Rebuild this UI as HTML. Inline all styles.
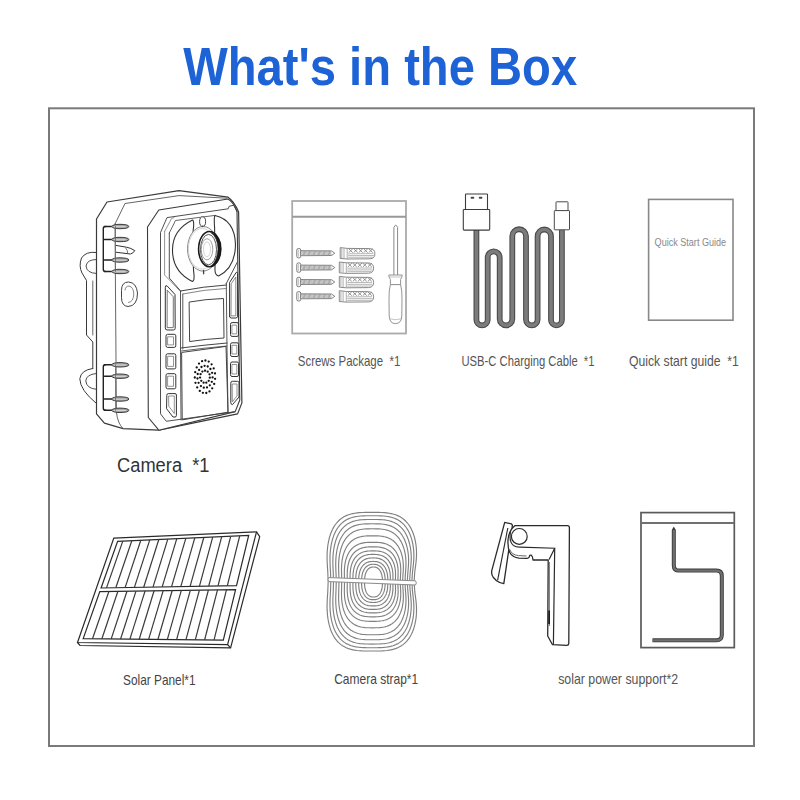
<!DOCTYPE html>
<html><head><meta charset="utf-8"><style>
html,body{margin:0;padding:0;background:#fff;}
body{width:800px;height:800px;overflow:hidden;}
svg{display:block;}
</style></head><body>
<svg width="800" height="800" viewBox="0 0 800 800">
<rect width="800" height="800" fill="#fff"/>
<rect x="49" y="108.3" width="705" height="637.7" fill="none" stroke="#7a7a7a" stroke-width="2"/>
<g fill="none" stroke="#6a6a6a" stroke-width="1"><rect x="292.2" y="201" width="113.8" height="132.5" stroke="#aaa" stroke-width="1.8"/><line x1="292.2" y1="216.8" x2="406" y2="216.8" stroke="#999" stroke-width="1.9"/></g><rect x="296.8" y="248.5" width="3.9" height="9.4" rx="1.6" fill="#fff" stroke="#7a7a7a" stroke-width="1"/><line x1="298.6" y1="249.6" x2="298.6" y2="256.8" stroke="#aaa" stroke-width="0.7"/><path d="M300.7 250.7 L331.5 250.9 L334.8 253.2 L331.5 255.5 L300.7 255.7 Z" fill="#fff" stroke="#777" stroke-width="0.9"/><path d="M301.8 250.9 L302.3 255.5 M303.1 250.9 L303.6 255.5 M304.3 250.9 L304.8 255.5 M305.6 250.9 L306.1 255.5 M306.8 250.9 L307.3 255.5 M308.1 250.9 L308.6 255.5 M309.3 250.9 L309.8 255.5 M310.6 250.9 L311.1 255.5 M311.8 250.9 L312.3 255.5 M313.1 250.9 L313.6 255.5 M314.3 250.9 L314.8 255.5 M315.6 250.9 L316.1 255.5 M316.8 250.9 L317.3 255.5 M318.1 250.9 L318.6 255.5 M319.3 250.9 L319.8 255.5 M320.6 250.9 L321.1 255.5 M321.8 250.9 L322.3 255.5 M323.1 250.9 L323.6 255.5 M324.3 250.9 L324.8 255.5 M325.6 250.9 L326.1 255.5 M326.8 250.9 L327.3 255.5 M328.1 250.9 L328.6 255.5 M329.3 250.9 L329.8 255.5 M330.6 250.9 L331.1 255.5" stroke="#8a8a8a" stroke-width="0.75" fill="none"/><path d="M340.2 247.6 L347.2 248.4 L369.9 248.6 Q374.9 248.9 374.9 253.7 Q374.9 258.6 369.9 258.8 L347.2 259.0 L340.2 258.4 Z" fill="#fff" stroke="#7a7a7a" stroke-width="0.9"/><path d="M341.8 248.2 L341.8 258.0 M344.0 248.4 L344.0 258.2 M347.2 248.4 L347.2 259.0" stroke="#999" stroke-width="0.8" fill="none"/><path d="M348.7 248.8 L352.7 252.6 M348.7 252.6 L352.7 248.8 M353.7 248.8 L357.7 252.6 M353.7 252.6 L357.7 248.8 M358.7 248.8 L362.7 252.6 M358.7 252.6 L362.7 248.8 M363.7 248.8 L367.7 252.6 M363.7 252.6 L367.7 248.8 M368.7 248.8 L372.7 252.6 M368.7 252.6 L372.7 248.8" stroke="#7a7a7a" stroke-width="0.8" fill="none"/><path d="M348.2 253.8 L373.4 253.6 M348.2 255.6 L373.9 255.5 M348.2 257.3 L372.9 257.2" stroke="#9a9a9a" stroke-width="0.7" fill="none"/><rect x="296.8" y="262.9" width="3.9" height="9.4" rx="1.6" fill="#fff" stroke="#7a7a7a" stroke-width="1"/><line x1="298.6" y1="264.0" x2="298.6" y2="271.2" stroke="#aaa" stroke-width="0.7"/><path d="M300.7 265.1 L331.5 265.3 L334.8 267.6 L331.5 269.9 L300.7 270.1 Z" fill="#fff" stroke="#777" stroke-width="0.9"/><path d="M301.8 265.3 L302.3 269.9 M303.1 265.3 L303.6 269.9 M304.3 265.3 L304.8 269.9 M305.6 265.3 L306.1 269.9 M306.8 265.3 L307.3 269.9 M308.1 265.3 L308.6 269.9 M309.3 265.3 L309.8 269.9 M310.6 265.3 L311.1 269.9 M311.8 265.3 L312.3 269.9 M313.1 265.3 L313.6 269.9 M314.3 265.3 L314.8 269.9 M315.6 265.3 L316.1 269.9 M316.8 265.3 L317.3 269.9 M318.1 265.3 L318.6 269.9 M319.3 265.3 L319.8 269.9 M320.6 265.3 L321.1 269.9 M321.8 265.3 L322.3 269.9 M323.1 265.3 L323.6 269.9 M324.3 265.3 L324.8 269.9 M325.6 265.3 L326.1 269.9 M326.8 265.3 L327.3 269.9 M328.1 265.3 L328.6 269.9 M329.3 265.3 L329.8 269.9 M330.6 265.3 L331.1 269.9" stroke="#8a8a8a" stroke-width="0.75" fill="none"/><path d="M339.3 262.0 L346.3 262.8 L368.6 263.0 Q373.6 263.3 373.6 268.1 Q373.6 273.0 368.6 273.2 L346.3 273.4 L339.3 272.8 Z" fill="#fff" stroke="#7a7a7a" stroke-width="0.9"/><path d="M340.9 262.6 L340.9 272.4 M343.1 262.8 L343.1 272.6 M346.3 262.8 L346.3 273.4" stroke="#999" stroke-width="0.8" fill="none"/><path d="M347.8 263.2 L351.8 267.0 M347.8 267.0 L351.8 263.2 M352.8 263.2 L356.8 267.0 M352.8 267.0 L356.8 263.2 M357.8 263.2 L361.8 267.0 M357.8 267.0 L361.8 263.2 M362.8 263.2 L366.8 267.0 M362.8 267.0 L366.8 263.2 M367.8 263.2 L371.8 267.0 M367.8 267.0 L371.8 263.2" stroke="#7a7a7a" stroke-width="0.8" fill="none"/><path d="M347.3 268.2 L372.1 268.0 M347.3 270.0 L372.6 269.9 M347.3 271.7 L371.6 271.6" stroke="#9a9a9a" stroke-width="0.7" fill="none"/><rect x="296.8" y="277.3" width="3.9" height="9.4" rx="1.6" fill="#fff" stroke="#7a7a7a" stroke-width="1"/><line x1="298.6" y1="278.4" x2="298.6" y2="285.6" stroke="#aaa" stroke-width="0.7"/><path d="M300.7 279.5 L331.5 279.7 L334.8 282.0 L331.5 284.3 L300.7 284.5 Z" fill="#fff" stroke="#777" stroke-width="0.9"/><path d="M301.8 279.7 L302.3 284.3 M303.1 279.7 L303.6 284.3 M304.3 279.7 L304.8 284.3 M305.6 279.7 L306.1 284.3 M306.8 279.7 L307.3 284.3 M308.1 279.7 L308.6 284.3 M309.3 279.7 L309.8 284.3 M310.6 279.7 L311.1 284.3 M311.8 279.7 L312.3 284.3 M313.1 279.7 L313.6 284.3 M314.3 279.7 L314.8 284.3 M315.6 279.7 L316.1 284.3 M316.8 279.7 L317.3 284.3 M318.1 279.7 L318.6 284.3 M319.3 279.7 L319.8 284.3 M320.6 279.7 L321.1 284.3 M321.8 279.7 L322.3 284.3 M323.1 279.7 L323.6 284.3 M324.3 279.7 L324.8 284.3 M325.6 279.7 L326.1 284.3 M326.8 279.7 L327.3 284.3 M328.1 279.7 L328.6 284.3 M329.3 279.7 L329.8 284.3 M330.6 279.7 L331.1 284.3" stroke="#8a8a8a" stroke-width="0.75" fill="none"/><path d="M339.3 276.4 L346.3 277.2 L368.6 277.4 Q373.6 277.7 373.6 282.5 Q373.6 287.4 368.6 287.6 L346.3 287.8 L339.3 287.2 Z" fill="#fff" stroke="#7a7a7a" stroke-width="0.9"/><path d="M340.9 277.0 L340.9 286.8 M343.1 277.2 L343.1 287.0 M346.3 277.2 L346.3 287.8" stroke="#999" stroke-width="0.8" fill="none"/><path d="M347.8 277.6 L351.8 281.4 M347.8 281.4 L351.8 277.6 M352.8 277.6 L356.8 281.4 M352.8 281.4 L356.8 277.6 M357.8 277.6 L361.8 281.4 M357.8 281.4 L361.8 277.6 M362.8 277.6 L366.8 281.4 M362.8 281.4 L366.8 277.6 M367.8 277.6 L371.8 281.4 M367.8 281.4 L371.8 277.6" stroke="#7a7a7a" stroke-width="0.8" fill="none"/><path d="M347.3 282.6 L372.1 282.4 M347.3 284.4 L372.6 284.3 M347.3 286.1 L371.6 286.0" stroke="#9a9a9a" stroke-width="0.7" fill="none"/><rect x="296.8" y="291.6" width="3.9" height="9.4" rx="1.6" fill="#fff" stroke="#7a7a7a" stroke-width="1"/><line x1="298.6" y1="292.7" x2="298.6" y2="299.9" stroke="#aaa" stroke-width="0.7"/><path d="M300.7 293.8 L331.5 294.0 L334.8 296.3 L331.5 298.6 L300.7 298.8 Z" fill="#fff" stroke="#777" stroke-width="0.9"/><path d="M301.8 294.0 L302.3 298.6 M303.1 294.0 L303.6 298.6 M304.3 294.0 L304.8 298.6 M305.6 294.0 L306.1 298.6 M306.8 294.0 L307.3 298.6 M308.1 294.0 L308.6 298.6 M309.3 294.0 L309.8 298.6 M310.6 294.0 L311.1 298.6 M311.8 294.0 L312.3 298.6 M313.1 294.0 L313.6 298.6 M314.3 294.0 L314.8 298.6 M315.6 294.0 L316.1 298.6 M316.8 294.0 L317.3 298.6 M318.1 294.0 L318.6 298.6 M319.3 294.0 L319.8 298.6 M320.6 294.0 L321.1 298.6 M321.8 294.0 L322.3 298.6 M323.1 294.0 L323.6 298.6 M324.3 294.0 L324.8 298.6 M325.6 294.0 L326.1 298.6 M326.8 294.0 L327.3 298.6 M328.1 294.0 L328.6 298.6 M329.3 294.0 L329.8 298.6 M330.6 294.0 L331.1 298.6" stroke="#8a8a8a" stroke-width="0.75" fill="none"/><path d="M339.3 290.7 L346.3 291.5 L368.6 291.7 Q373.6 292.0 373.6 296.8 Q373.6 301.7 368.6 301.9 L346.3 302.1 L339.3 301.5 Z" fill="#fff" stroke="#7a7a7a" stroke-width="0.9"/><path d="M340.9 291.3 L340.9 301.1 M343.1 291.5 L343.1 301.3 M346.3 291.5 L346.3 302.1" stroke="#999" stroke-width="0.8" fill="none"/><path d="M347.8 291.9 L351.8 295.7 M347.8 295.7 L351.8 291.9 M352.8 291.9 L356.8 295.7 M352.8 295.7 L356.8 291.9 M357.8 291.9 L361.8 295.7 M357.8 295.7 L361.8 291.9 M362.8 291.9 L366.8 295.7 M362.8 295.7 L366.8 291.9 M367.8 291.9 L371.8 295.7 M367.8 295.7 L371.8 291.9" stroke="#7a7a7a" stroke-width="0.8" fill="none"/><path d="M347.3 296.9 L372.1 296.7 M347.3 298.7 L372.6 298.6 M347.3 300.4 L371.6 300.3" stroke="#9a9a9a" stroke-width="0.7" fill="none"/><path d="M393.9 275 L393.9 227.5 Q395.75 222.8 397.6 227.5 L397.6 275" fill="#fff" stroke="#888" stroke-width="1"/><path d="M388.8 275 L402.2 275 Q402 277.8 400.6 279.5 L400.6 284.6 L390.4 284.6 L390.4 279.5 Q389 277.8 388.8 275 Z" fill="#fff" stroke="#888" stroke-width="0.9"/><path d="M390.4 284.6 L400.6 284.6 Q402.2 290 402 300 L401.8 316 Q401.5 323.6 395.5 323.6 Q389.5 323.6 389.2 316 L389 300 Q388.8 290 390.4 284.6 Z" fill="#fff" stroke="#888" stroke-width="0.9"/><path d="M389.6 318.8 Q395.5 320.6 401.4 318.8 M389.3 277 L401.8 277" fill="none" stroke="#aaa" stroke-width="0.7"/>
<path d="M476.4 229.5 L476.4 319.8 A5.65 5.65 0 0 0 487.7 319.8 L487.7 257.4 A6.00 6.00 0 0 1 499.7 257.4 L499.7 319.1 A6.30 6.30 0 0 0 512.3 319.1 L512.3 236.1 A6.85 6.85 0 0 1 526.0 236.1 L526.0 319.6 A5.80 5.80 0 0 0 537.6 319.6 L537.6 236.2 A6.70 6.70 0 0 1 551.0 236.2 L551.0 319.9 A5.45 5.45 0 0 0 561.9 319.9 L561.9 229.5" fill="none" stroke="#4a4a4a" stroke-width="5.8" stroke-linejoin="round"/><path d="M476.4 229.5 L476.4 319.8 A5.65 5.65 0 0 0 487.7 319.8 L487.7 257.4 A6.00 6.00 0 0 1 499.7 257.4 L499.7 319.1 A6.30 6.30 0 0 0 512.3 319.1 L512.3 236.1 A6.85 6.85 0 0 1 526.0 236.1 L526.0 319.6 A5.80 5.80 0 0 0 537.6 319.6 L537.6 236.2 A6.70 6.70 0 0 1 551.0 236.2 L551.0 319.9 A5.45 5.45 0 0 0 561.9 319.9 L561.9 229.5" fill="none" stroke="#7c7c7c" stroke-width="3.6" stroke-linejoin="round"/><rect x="465.5" y="194" width="22" height="15.5" rx="0.6" fill="#fff" stroke="#3c3c3c" stroke-width="1.1"/><rect x="470.6" y="196.7" width="3.6" height="2" rx="0.8" fill="#444"/><rect x="478.8" y="196.7" width="3.6" height="2" rx="0.8" fill="#444"/><rect x="463.3" y="209.5" width="26.4" height="20.6" rx="0.8" fill="#fff" stroke="#3c3c3c" stroke-width="1.1"/><rect x="556" y="201.8" width="12" height="9" rx="0.5" fill="#fff" stroke="#4a4a4a" stroke-width="1"/><rect x="554.3" y="210.6" width="15.2" height="19.2" rx="0.5" fill="#fff" stroke="#4a4a4a" stroke-width="1"/>
<rect x="648.6" y="199.4" width="84.4" height="120.8" fill="none" stroke="#888" stroke-width="1.6"/>
<path d="M113.8 538.1 L256.5 531.9 L227.6 644.7 L77.5 642.5 Z" stroke="#2a2a2a" stroke-width="1.2" fill="none"/><path d="M256.5 531.9 L259.7 536.6 L230.6 647.8 L80 645.5 L77.5 642.5" stroke="#2a2a2a" stroke-width="1.2" fill="none"/><path d="M227.6 644.7 L230.6 647.8" stroke="#2a2a2a" stroke-width="1.2" fill="none"/><path d="M117.6 541.3 L248.7 535.5 L236.5 585.6 L101.1 588.0 Z" stroke="#2a2a2a" stroke-width="1.2" fill="none"/><path d="M99.8 591.6 L235.6 589.6 L223.3 640.2 L83.2 638.6 Z" stroke="#2a2a2a" stroke-width="1.2" fill="none"/><line x1="122.8" y1="541.1" x2="106.5" y2="587.9" stroke="#3a3a3a" stroke-width="1.2"/><line x1="131.8" y1="540.7" x2="115.8" y2="587.7" stroke="#3a3a3a" stroke-width="1.2"/><line x1="140.8" y1="540.3" x2="125.1" y2="587.6" stroke="#3a3a3a" stroke-width="1.2"/><line x1="149.8" y1="539.9" x2="134.4" y2="587.4" stroke="#3a3a3a" stroke-width="1.2"/><line x1="158.8" y1="539.5" x2="143.7" y2="587.2" stroke="#3a3a3a" stroke-width="1.2"/><line x1="167.8" y1="539.1" x2="153.0" y2="587.1" stroke="#3a3a3a" stroke-width="1.2"/><line x1="176.8" y1="538.7" x2="162.2" y2="586.9" stroke="#3a3a3a" stroke-width="1.2"/><line x1="185.8" y1="538.3" x2="171.5" y2="586.8" stroke="#3a3a3a" stroke-width="1.2"/><line x1="194.8" y1="537.9" x2="180.8" y2="586.6" stroke="#3a3a3a" stroke-width="1.2"/><line x1="203.8" y1="537.5" x2="190.1" y2="586.4" stroke="#3a3a3a" stroke-width="1.2"/><line x1="212.7" y1="537.1" x2="199.4" y2="586.3" stroke="#3a3a3a" stroke-width="1.2"/><line x1="221.7" y1="536.7" x2="208.7" y2="586.1" stroke="#3a3a3a" stroke-width="1.2"/><line x1="230.7" y1="536.3" x2="218.0" y2="585.9" stroke="#3a3a3a" stroke-width="1.2"/><line x1="239.7" y1="535.9" x2="227.3" y2="585.8" stroke="#3a3a3a" stroke-width="1.2"/><line x1="108.9" y1="591.5" x2="92.5" y2="638.7" stroke="#3a3a3a" stroke-width="1.2"/><line x1="117.9" y1="591.3" x2="101.9" y2="638.8" stroke="#3a3a3a" stroke-width="1.2"/><line x1="127.0" y1="591.2" x2="111.2" y2="638.9" stroke="#3a3a3a" stroke-width="1.2"/><line x1="136.0" y1="591.1" x2="120.6" y2="639.0" stroke="#3a3a3a" stroke-width="1.2"/><line x1="145.1" y1="590.9" x2="129.9" y2="639.1" stroke="#3a3a3a" stroke-width="1.2"/><line x1="154.1" y1="590.8" x2="139.2" y2="639.2" stroke="#3a3a3a" stroke-width="1.2"/><line x1="163.2" y1="590.7" x2="148.6" y2="639.3" stroke="#3a3a3a" stroke-width="1.2"/><line x1="172.2" y1="590.5" x2="157.9" y2="639.5" stroke="#3a3a3a" stroke-width="1.2"/><line x1="181.3" y1="590.4" x2="167.3" y2="639.6" stroke="#3a3a3a" stroke-width="1.2"/><line x1="190.3" y1="590.3" x2="176.6" y2="639.7" stroke="#3a3a3a" stroke-width="1.2"/><line x1="199.4" y1="590.1" x2="185.9" y2="639.8" stroke="#3a3a3a" stroke-width="1.2"/><line x1="208.4" y1="590.0" x2="195.3" y2="639.9" stroke="#3a3a3a" stroke-width="1.2"/><line x1="217.5" y1="589.9" x2="204.6" y2="640.0" stroke="#3a3a3a" stroke-width="1.2"/><line x1="226.5" y1="589.7" x2="214.0" y2="640.1" stroke="#3a3a3a" stroke-width="1.2"/>
<path d="M382.50 582.00 L382.49 582.90 L382.48 583.64 L382.45 584.33 L382.40 584.99 L382.35 585.62 L382.28 586.23 L382.21 586.83 L382.12 587.40 L382.01 587.96 L381.90 588.51 L381.78 589.04 L381.64 589.55 L381.49 590.05 L381.33 590.53 L381.17 591.00 L380.99 591.45 L380.79 591.89 L380.59 592.31 L380.38 592.71 L380.16 593.10 L379.93 593.47 L379.68 593.82 L379.43 594.16 L379.17 594.48 L378.90 594.78 L378.62 595.06 L378.33 595.32 L378.03 595.57 L377.72 595.79 L377.40 596.00 L377.08 596.19 L376.74 596.36 L376.40 596.51 L376.04 596.64 L375.67 596.75 L375.29 596.84 L374.90 596.91 L374.48 596.96 L374.04 596.99 L373.50 597.00 L372.96 596.99 L372.52 596.96 L372.10 596.91 L371.71 596.84 L371.33 596.75 L370.96 596.64 L370.60 596.51 L370.26 596.36 L369.92 596.19 L369.60 596.00 L369.28 595.79 L368.97 595.57 L368.67 595.32 L368.38 595.06 L368.10 594.78 L367.83 594.48 L367.57 594.16 L367.32 593.82 L367.07 593.47 L366.84 593.10 L366.62 592.71 L366.41 592.31 L366.21 591.89 L366.01 591.45 L365.83 591.00 L365.67 590.53 L365.51 590.05 L365.36 589.55 L365.22 589.04 L365.10 588.51 L364.99 587.96 L364.88 587.40 L364.79 586.83 L364.72 586.23 L364.65 585.62 L364.60 584.99 L364.55 584.33 L364.52 583.64 L364.51 582.90 L364.50 582.00 L364.51 581.10 L364.52 580.36 L364.55 579.67 L364.60 579.01 L364.65 578.38 L364.72 577.77 L364.79 577.17 L364.88 576.60 L364.99 576.04 L365.10 575.49 L365.22 574.96 L365.36 574.45 L365.51 573.95 L365.67 573.47 L365.83 573.00 L366.01 572.55 L366.21 572.11 L366.41 571.69 L366.62 571.29 L366.84 570.90 L367.07 570.53 L367.32 570.18 L367.57 569.84 L367.83 569.52 L368.10 569.22 L368.38 568.94 L368.67 568.68 L368.97 568.43 L369.28 568.21 L369.60 568.00 L369.92 567.81 L370.26 567.64 L370.60 567.49 L370.96 567.36 L371.33 567.25 L371.71 567.16 L372.10 567.09 L372.52 567.04 L372.96 567.01 L373.50 567.00 L374.04 567.01 L374.48 567.04 L374.90 567.09 L375.29 567.16 L375.67 567.25 L376.04 567.36 L376.40 567.49 L376.74 567.64 L377.08 567.81 L377.40 568.00 L377.72 568.21 L378.03 568.43 L378.33 568.68 L378.62 568.94 L378.90 569.22 L379.17 569.52 L379.43 569.84 L379.68 570.18 L379.93 570.53 L380.16 570.90 L380.38 571.29 L380.59 571.69 L380.79 572.11 L380.99 572.55 L381.17 573.00 L381.33 573.47 L381.49 573.95 L381.64 574.45 L381.78 574.96 L381.90 575.49 L382.01 576.04 L382.12 576.60 L382.21 577.17 L382.28 577.77 L382.35 578.38 L382.40 579.01 L382.45 579.67 L382.48 580.36 L382.49 581.10 Z" fill="none" stroke="#808080" stroke-width="1.15"/><path d="M385.15 581.98 L385.15 583.14 L385.13 584.06 L385.10 584.90 L385.06 585.69 L385.00 586.45 L384.92 587.18 L384.83 587.89 L384.72 588.57 L384.60 589.23 L384.46 589.86 L384.30 590.48 L384.13 591.08 L383.94 591.67 L383.74 592.23 L383.53 592.77 L383.29 593.30 L383.05 593.80 L382.79 594.29 L382.52 594.75 L382.23 595.20 L381.94 595.63 L381.62 596.03 L381.30 596.42 L380.96 596.79 L380.61 597.13 L380.25 597.46 L379.87 597.76 L379.48 598.04 L379.08 598.30 L378.66 598.54 L378.24 598.75 L377.79 598.95 L377.34 599.12 L376.87 599.26 L376.38 599.39 L375.87 599.49 L375.34 599.57 L374.78 599.63 L374.16 599.67 L373.38 599.68 L372.61 599.67 L371.99 599.63 L371.43 599.57 L370.90 599.49 L370.39 599.39 L369.90 599.26 L369.43 599.12 L368.97 598.95 L368.53 598.75 L368.11 598.54 L367.69 598.30 L367.29 598.04 L366.90 597.76 L366.52 597.46 L366.16 597.13 L365.81 596.79 L365.47 596.42 L365.15 596.03 L364.83 595.63 L364.53 595.20 L364.25 594.75 L363.98 594.29 L363.72 593.80 L363.47 593.30 L363.24 592.77 L363.03 592.23 L362.82 591.67 L362.64 591.08 L362.46 590.48 L362.31 589.86 L362.17 589.23 L362.04 588.57 L361.93 587.89 L361.83 587.18 L361.75 586.45 L361.69 585.69 L361.64 584.90 L361.61 584.06 L361.59 583.14 L361.58 581.98 L361.59 580.82 L361.61 579.90 L361.64 579.06 L361.69 578.26 L361.75 577.50 L361.83 576.77 L361.93 576.07 L362.04 575.39 L362.17 574.73 L362.31 574.09 L362.46 573.47 L362.64 572.87 L362.82 572.29 L363.03 571.73 L363.24 571.18 L363.47 570.66 L363.72 570.15 L363.98 569.67 L364.25 569.20 L364.53 568.75 L364.83 568.33 L365.15 567.92 L365.47 567.53 L365.81 567.17 L366.16 566.82 L366.52 566.50 L366.90 566.20 L367.29 565.91 L367.69 565.66 L368.11 565.42 L368.53 565.20 L368.97 565.01 L369.43 564.84 L369.90 564.69 L370.39 564.56 L370.90 564.46 L371.43 564.38 L371.99 564.32 L372.61 564.29 L373.38 564.28 L374.16 564.29 L374.78 564.32 L375.34 564.38 L375.87 564.46 L376.38 564.56 L376.87 564.69 L377.34 564.84 L377.79 565.01 L378.24 565.20 L378.66 565.42 L379.08 565.66 L379.48 565.91 L379.87 566.20 L380.25 566.50 L380.61 566.82 L380.96 567.17 L381.30 567.53 L381.62 567.92 L381.94 568.33 L382.23 568.75 L382.52 569.20 L382.79 569.67 L383.05 570.15 L383.29 570.66 L383.53 571.18 L383.74 571.73 L383.94 572.29 L384.13 572.87 L384.30 573.47 L384.46 574.09 L384.60 574.73 L384.72 575.39 L384.83 576.07 L384.92 576.77 L385.00 577.50 L385.06 578.26 L385.10 579.06 L385.13 579.90 L385.15 580.82 Z" fill="none" stroke="#808080" stroke-width="1.15"/><path d="M387.77 581.95 L387.77 583.42 L387.76 584.53 L387.74 585.53 L387.70 586.47 L387.64 587.36 L387.56 588.22 L387.45 589.04 L387.33 589.83 L387.19 590.59 L387.02 591.32 L386.84 592.04 L386.63 592.72 L386.41 593.39 L386.17 594.03 L385.91 594.65 L385.63 595.25 L385.33 595.82 L385.02 596.37 L384.69 596.90 L384.35 597.41 L383.98 597.89 L383.60 598.35 L383.21 598.79 L382.80 599.20 L382.37 599.59 L381.93 599.96 L381.46 600.30 L380.99 600.61 L380.50 600.91 L379.98 601.17 L379.46 601.42 L378.91 601.63 L378.35 601.82 L377.76 601.99 L377.15 602.13 L376.51 602.25 L375.84 602.34 L375.11 602.40 L374.32 602.44 L373.27 602.45 L372.22 602.44 L371.42 602.40 L370.70 602.34 L370.03 602.25 L369.39 602.13 L368.78 601.99 L368.19 601.82 L367.63 601.63 L367.08 601.42 L366.55 601.17 L366.04 600.91 L365.55 600.61 L365.07 600.30 L364.61 599.96 L364.17 599.59 L363.74 599.20 L363.33 598.79 L362.93 598.35 L362.56 597.89 L362.19 597.41 L361.85 596.90 L361.52 596.37 L361.20 595.82 L360.91 595.25 L360.63 594.65 L360.37 594.03 L360.13 593.39 L359.90 592.72 L359.70 592.04 L359.51 591.32 L359.34 590.59 L359.19 589.83 L359.06 589.04 L358.95 588.22 L358.86 587.36 L358.79 586.47 L358.74 585.53 L358.70 584.53 L358.69 583.42 L358.68 581.95 L358.69 580.49 L358.70 579.38 L358.74 578.37 L358.79 577.43 L358.86 576.54 L358.95 575.69 L359.06 574.87 L359.19 574.08 L359.34 573.32 L359.51 572.58 L359.70 571.87 L359.90 571.18 L360.13 570.52 L360.37 569.88 L360.63 569.26 L360.91 568.66 L361.20 568.09 L361.52 567.53 L361.85 567.00 L362.19 566.50 L362.56 566.02 L362.93 565.56 L363.33 565.12 L363.74 564.71 L364.17 564.32 L364.61 563.95 L365.07 563.61 L365.55 563.29 L366.04 563.00 L366.55 562.73 L367.08 562.49 L367.63 562.28 L368.19 562.08 L368.78 561.92 L369.39 561.78 L370.03 561.66 L370.70 561.57 L371.42 561.51 L372.22 561.47 L373.27 561.45 L374.32 561.47 L375.11 561.51 L375.84 561.57 L376.51 561.66 L377.15 561.78 L377.76 561.92 L378.35 562.08 L378.91 562.28 L379.46 562.49 L379.98 562.73 L380.50 563.00 L380.99 563.29 L381.46 563.61 L381.93 563.95 L382.37 564.32 L382.80 564.71 L383.21 565.12 L383.60 565.56 L383.98 566.02 L384.35 566.50 L384.69 567.00 L385.02 567.53 L385.33 568.09 L385.63 568.66 L385.91 569.26 L386.17 569.88 L386.41 570.52 L386.63 571.18 L386.84 571.87 L387.02 572.58 L387.19 573.32 L387.33 574.08 L387.45 574.87 L387.56 575.69 L387.64 576.54 L387.70 577.43 L387.74 578.37 L387.76 579.38 L387.77 580.49 Z" fill="none" stroke="#808080" stroke-width="1.15"/><path d="M390.35 581.93 L390.36 583.79 L390.36 585.14 L390.35 586.35 L390.32 587.47 L390.27 588.53 L390.18 589.53 L390.08 590.49 L389.94 591.42 L389.78 592.31 L389.59 593.16 L389.38 593.99 L389.15 594.79 L388.89 595.56 L388.61 596.30 L388.31 597.01 L387.98 597.70 L387.64 598.36 L387.28 598.99 L386.89 599.60 L386.49 600.18 L386.07 600.73 L385.62 601.26 L385.16 601.76 L384.68 602.23 L384.18 602.67 L383.65 603.09 L383.11 603.48 L382.55 603.84 L381.97 604.17 L381.36 604.48 L380.74 604.75 L380.09 605.00 L379.41 605.22 L378.71 605.41 L377.97 605.57 L377.20 605.70 L376.38 605.80 L375.50 605.87 L374.51 605.92 L373.15 605.93 L371.80 605.92 L370.81 605.87 L369.92 605.80 L369.11 605.70 L368.33 605.57 L367.60 605.41 L366.90 605.22 L366.22 605.00 L365.57 604.75 L364.94 604.48 L364.34 604.17 L363.76 603.84 L363.20 603.48 L362.65 603.09 L362.13 602.67 L361.63 602.23 L361.15 601.76 L360.68 601.26 L360.24 600.73 L359.82 600.18 L359.41 599.60 L359.03 598.99 L358.67 598.36 L358.32 597.70 L358.00 597.01 L357.70 596.30 L357.41 595.56 L357.15 594.79 L356.92 593.99 L356.70 593.16 L356.51 592.31 L356.34 591.42 L356.19 590.49 L356.07 589.53 L355.97 588.53 L355.90 587.47 L355.85 586.35 L355.82 585.14 L355.80 583.79 L355.80 581.93 L355.80 580.07 L355.82 578.72 L355.85 577.51 L355.90 576.39 L355.97 575.33 L356.07 574.33 L356.19 573.37 L356.34 572.44 L356.51 571.55 L356.70 570.70 L356.92 569.87 L357.15 569.07 L357.41 568.30 L357.70 567.56 L358.00 566.85 L358.32 566.16 L358.67 565.50 L359.03 564.87 L359.41 564.26 L359.82 563.68 L360.24 563.13 L360.68 562.60 L361.15 562.10 L361.63 561.63 L362.13 561.19 L362.65 560.77 L363.20 560.38 L363.76 560.02 L364.34 559.69 L364.94 559.39 L365.57 559.11 L366.22 558.86 L366.90 558.65 L367.60 558.46 L368.33 558.30 L369.11 558.16 L369.92 558.06 L370.81 557.99 L371.80 557.95 L373.15 557.93 L374.51 557.95 L375.50 557.99 L376.38 558.06 L377.20 558.16 L377.97 558.30 L378.71 558.46 L379.41 558.65 L380.09 558.86 L380.74 559.11 L381.36 559.39 L381.97 559.69 L382.55 560.02 L383.11 560.38 L383.65 560.77 L384.18 561.19 L384.68 561.63 L385.16 562.10 L385.62 562.60 L386.07 563.13 L386.49 563.68 L386.89 564.26 L387.28 564.87 L387.64 565.50 L387.98 566.16 L388.31 566.85 L388.61 567.56 L388.89 568.30 L389.15 569.07 L389.38 569.87 L389.59 570.70 L389.78 571.55 L389.94 572.44 L390.08 573.37 L390.18 574.33 L390.27 575.33 L390.32 576.39 L390.35 577.51 L390.36 578.72 L390.36 580.07 Z" fill="none" stroke="#808080" stroke-width="1.15"/><path d="M392.89 581.91 L392.91 584.20 L392.94 585.81 L392.95 587.23 L392.93 588.54 L392.89 589.76 L392.81 590.92 L392.70 592.02 L392.55 593.08 L392.38 594.10 L392.17 595.07 L391.94 596.01 L391.67 596.91 L391.38 597.79 L391.07 598.62 L390.72 599.43 L390.36 600.20 L389.97 600.95 L389.56 601.66 L389.12 602.34 L388.66 602.99 L388.18 603.61 L387.68 604.20 L387.15 604.76 L386.60 605.28 L386.03 605.78 L385.43 606.24 L384.81 606.68 L384.16 607.08 L383.49 607.45 L382.80 607.79 L382.07 608.09 L381.32 608.37 L380.54 608.61 L379.72 608.82 L378.86 609.00 L377.95 609.15 L376.98 609.26 L375.93 609.34 L374.74 609.39 L373.04 609.41 L371.34 609.39 L370.14 609.34 L369.09 609.26 L368.13 609.15 L367.22 609.00 L366.36 608.82 L365.54 608.61 L364.76 608.37 L364.00 608.09 L363.28 607.79 L362.58 607.45 L361.91 607.08 L361.27 606.68 L360.65 606.24 L360.05 605.78 L359.48 605.28 L358.93 604.76 L358.40 604.20 L357.89 603.61 L357.41 602.99 L356.95 602.34 L356.52 601.66 L356.10 600.95 L355.71 600.20 L355.35 599.43 L355.01 598.62 L354.69 597.79 L354.39 596.91 L354.13 596.01 L353.88 595.07 L353.67 594.10 L353.48 593.08 L353.32 592.02 L353.19 590.92 L353.08 589.76 L353.01 588.54 L352.96 587.23 L352.94 585.81 L352.94 584.20 L352.95 581.91 L352.94 579.61 L352.94 578.00 L352.96 576.58 L353.01 575.28 L353.08 574.06 L353.19 572.90 L353.32 571.79 L353.48 570.73 L353.67 569.72 L353.88 568.74 L354.13 567.80 L354.39 566.90 L354.69 566.03 L355.01 565.19 L355.35 564.39 L355.71 563.61 L356.10 562.87 L356.52 562.16 L356.95 561.48 L357.41 560.83 L357.89 560.21 L358.40 559.62 L358.93 559.06 L359.48 558.53 L360.05 558.04 L360.65 557.57 L361.27 557.14 L361.91 556.74 L362.58 556.37 L363.28 556.03 L364.00 555.72 L364.76 555.45 L365.54 555.20 L366.36 554.99 L367.22 554.81 L368.13 554.67 L369.09 554.55 L370.14 554.47 L371.34 554.42 L373.04 554.41 L374.74 554.42 L375.93 554.47 L376.98 554.55 L377.95 554.67 L378.86 554.81 L379.72 554.99 L380.54 555.20 L381.32 555.45 L382.07 555.72 L382.80 556.03 L383.49 556.37 L384.16 556.74 L384.81 557.14 L385.43 557.57 L386.03 558.04 L386.60 558.53 L387.15 559.06 L387.68 559.62 L388.18 560.21 L388.66 560.83 L389.12 561.48 L389.56 562.16 L389.97 562.87 L390.36 563.61 L390.72 564.39 L391.07 565.19 L391.38 566.03 L391.67 566.90 L391.94 567.80 L392.17 568.74 L392.38 569.72 L392.55 570.73 L392.70 571.79 L392.81 572.90 L392.89 574.06 L392.93 575.28 L392.95 576.58 L392.94 578.00 L392.91 579.61 Z" fill="none" stroke="#808080" stroke-width="1.15"/><path d="M395.39 581.88 L395.44 584.66 L395.50 586.54 L395.53 588.17 L395.54 589.67 L395.51 591.06 L395.44 592.37 L395.32 593.62 L395.17 594.81 L394.98 595.95 L394.76 597.04 L394.50 598.09 L394.21 599.10 L393.89 600.07 L393.54 601.00 L393.16 601.89 L392.75 602.75 L392.32 603.57 L391.86 604.36 L391.38 605.11 L390.87 605.83 L390.33 606.51 L389.77 607.16 L389.18 607.78 L388.56 608.36 L387.92 608.90 L387.25 609.41 L386.55 609.89 L385.82 610.33 L385.07 610.74 L384.28 611.11 L383.46 611.45 L382.61 611.75 L381.72 612.01 L380.78 612.24 L379.80 612.44 L378.76 612.60 L377.64 612.72 L376.41 612.81 L375.01 612.87 L372.92 612.88 L370.84 612.87 L369.43 612.81 L368.21 612.72 L367.09 612.60 L366.05 612.44 L365.06 612.24 L364.13 612.01 L363.24 611.75 L362.38 611.45 L361.57 611.11 L360.78 610.74 L360.02 610.33 L359.30 609.89 L358.60 609.41 L357.93 608.90 L357.29 608.36 L356.67 607.78 L356.08 607.16 L355.52 606.51 L354.98 605.83 L354.47 605.11 L353.98 604.36 L353.52 603.57 L353.09 602.75 L352.68 601.89 L352.30 601.00 L351.95 600.07 L351.62 599.10 L351.33 598.09 L351.06 597.04 L350.82 595.95 L350.62 594.81 L350.44 593.62 L350.30 592.37 L350.20 591.06 L350.13 589.67 L350.09 588.17 L350.08 586.54 L350.09 584.66 L350.11 581.88 L350.09 579.11 L350.08 577.23 L350.09 575.59 L350.13 574.10 L350.20 572.71 L350.30 571.40 L350.44 570.15 L350.62 568.96 L350.82 567.82 L351.06 566.73 L351.33 565.68 L351.62 564.67 L351.95 563.70 L352.30 562.77 L352.68 561.88 L353.09 561.02 L353.52 560.20 L353.98 559.41 L354.47 558.66 L354.98 557.94 L355.52 557.26 L356.08 556.61 L356.67 555.99 L357.29 555.41 L357.93 554.87 L358.60 554.36 L359.30 553.88 L360.02 553.44 L360.78 553.03 L361.57 552.66 L362.38 552.32 L363.24 552.02 L364.13 551.76 L365.06 551.52 L366.05 551.33 L367.09 551.17 L368.21 551.04 L369.43 550.96 L370.84 550.90 L372.92 550.88 L375.01 550.90 L376.41 550.96 L377.64 551.04 L378.76 551.17 L379.80 551.33 L380.78 551.52 L381.72 551.76 L382.61 552.02 L383.46 552.32 L384.28 552.66 L385.07 553.03 L385.82 553.44 L386.55 553.88 L387.25 554.36 L387.92 554.87 L388.56 555.41 L389.18 555.99 L389.77 556.61 L390.33 557.26 L390.87 557.94 L391.38 558.66 L391.86 559.41 L392.32 560.20 L392.75 561.02 L393.16 561.88 L393.54 562.77 L393.89 563.70 L394.21 564.67 L394.50 565.68 L394.76 566.73 L394.98 567.82 L395.17 568.96 L395.32 570.15 L395.44 571.40 L395.51 572.71 L395.54 574.10 L395.53 575.59 L395.50 577.23 L395.44 579.11 Z" fill="none" stroke="#808080" stroke-width="1.15"/><path d="M397.86 581.86 L397.94 585.22 L398.03 587.40 L398.10 589.29 L398.14 590.99 L398.13 592.58 L398.06 594.07 L397.95 595.47 L397.79 596.81 L397.59 598.09 L397.35 599.32 L397.07 600.49 L396.75 601.62 L396.41 602.70 L396.02 603.73 L395.61 604.73 L395.17 605.68 L394.69 606.59 L394.19 607.47 L393.66 608.30 L393.09 609.09 L392.50 609.85 L391.88 610.56 L391.23 611.24 L390.55 611.88 L389.84 612.48 L389.10 613.05 L388.33 613.57 L387.53 614.06 L386.69 614.50 L385.81 614.91 L384.90 615.28 L383.95 615.61 L382.95 615.90 L381.90 616.16 L380.79 616.37 L379.61 616.55 L378.34 616.69 L376.94 616.78 L375.31 616.84 L372.81 616.86 L370.31 616.84 L368.68 616.78 L367.28 616.69 L366.00 616.55 L364.82 616.37 L363.72 616.16 L362.67 615.90 L361.67 615.61 L360.71 615.28 L359.80 614.91 L358.93 614.50 L358.09 614.06 L357.28 613.57 L356.51 613.05 L355.77 612.48 L355.06 611.88 L354.38 611.24 L353.73 610.56 L353.11 609.85 L352.52 609.09 L351.96 608.30 L351.43 607.47 L350.92 606.59 L350.45 605.68 L350.00 604.73 L349.58 603.73 L349.20 602.70 L348.84 601.62 L348.52 600.49 L348.23 599.32 L347.97 598.09 L347.75 596.81 L347.56 595.47 L347.42 594.07 L347.31 592.58 L347.25 590.99 L347.22 589.29 L347.23 587.40 L347.26 585.22 L347.29 581.86 L347.26 578.51 L347.23 576.32 L347.22 574.44 L347.25 572.73 L347.31 571.15 L347.42 569.66 L347.56 568.25 L347.75 566.91 L347.97 565.63 L348.23 564.41 L348.52 563.23 L348.84 562.11 L349.20 561.03 L349.58 559.99 L350.00 559.00 L350.45 558.04 L350.92 557.13 L351.43 556.26 L351.96 555.42 L352.52 554.63 L353.11 553.88 L353.73 553.16 L354.38 552.48 L355.06 551.84 L355.77 551.24 L356.51 550.68 L357.28 550.15 L358.09 549.67 L358.93 549.22 L359.80 548.81 L360.71 548.44 L361.67 548.11 L362.67 547.82 L363.72 547.56 L364.82 547.35 L366.00 547.17 L367.28 547.04 L368.68 546.94 L370.31 546.88 L372.81 546.86 L375.31 546.88 L376.94 546.94 L378.34 547.04 L379.61 547.17 L380.79 547.35 L381.90 547.56 L382.95 547.82 L383.95 548.11 L384.90 548.44 L385.81 548.81 L386.69 549.22 L387.53 549.67 L388.33 550.15 L389.10 550.68 L389.84 551.24 L390.55 551.84 L391.23 552.48 L391.88 553.16 L392.50 553.88 L393.09 554.63 L393.66 555.42 L394.19 556.26 L394.69 557.13 L395.17 558.04 L395.61 559.00 L396.02 559.99 L396.41 561.03 L396.75 562.11 L397.07 563.23 L397.35 564.41 L397.59 565.63 L397.79 566.91 L397.95 568.25 L398.06 569.66 L398.13 571.15 L398.14 572.73 L398.10 574.44 L398.03 576.32 L397.94 578.51 Z" fill="none" stroke="#808080" stroke-width="1.15"/><path d="M400.29 581.84 L400.41 585.87 L400.55 588.41 L400.67 590.58 L400.73 592.53 L400.74 594.33 L400.69 596.01 L400.58 597.60 L400.42 599.11 L400.21 600.54 L399.95 601.91 L399.65 603.23 L399.31 604.48 L398.93 605.69 L398.52 606.84 L398.07 607.94 L397.59 609.00 L397.08 610.01 L396.53 610.98 L395.96 611.90 L395.35 612.78 L394.70 613.61 L394.03 614.41 L393.32 615.15 L392.58 615.86 L391.81 616.52 L391.00 617.14 L390.15 617.72 L389.27 618.25 L388.35 618.75 L387.39 619.20 L386.39 619.60 L385.34 619.97 L384.23 620.29 L383.07 620.57 L381.84 620.80 L380.52 621.00 L379.09 621.15 L377.51 621.25 L375.65 621.32 L372.69 621.34 L369.74 621.32 L367.88 621.25 L366.29 621.15 L364.87 621.00 L363.55 620.80 L362.32 620.57 L361.15 620.29 L360.05 619.97 L359.00 619.60 L357.99 619.20 L357.03 618.75 L356.11 618.25 L355.23 617.72 L354.39 617.14 L353.58 616.52 L352.80 615.86 L352.06 615.15 L351.35 614.41 L350.68 613.61 L350.04 612.78 L349.43 611.90 L348.85 610.98 L348.30 610.01 L347.79 609.00 L347.30 607.94 L346.85 606.84 L346.44 605.69 L346.05 604.48 L345.70 603.23 L345.39 601.91 L345.11 600.54 L344.88 599.11 L344.68 597.60 L344.53 596.01 L344.43 594.33 L344.37 592.53 L344.35 590.58 L344.38 588.41 L344.44 585.87 L344.50 581.84 L344.44 577.80 L344.38 575.27 L344.35 573.10 L344.37 571.15 L344.43 569.35 L344.53 567.67 L344.68 566.08 L344.88 564.57 L345.11 563.13 L345.39 561.76 L345.70 560.45 L346.05 559.19 L346.44 557.99 L346.85 556.84 L347.30 555.73 L347.79 554.67 L348.30 553.66 L348.85 552.70 L349.43 551.77 L350.04 550.90 L350.68 550.06 L351.35 549.27 L352.06 548.52 L352.80 547.82 L353.58 547.16 L354.39 546.54 L355.23 545.96 L356.11 545.42 L357.03 544.93 L357.99 544.48 L359.00 544.07 L360.05 543.71 L361.15 543.39 L362.32 543.11 L363.55 542.87 L364.87 542.68 L366.29 542.53 L367.88 542.42 L369.74 542.36 L372.69 542.34 L375.65 542.36 L377.51 542.42 L379.09 542.53 L380.52 542.68 L381.84 542.87 L383.07 543.11 L384.23 543.39 L385.34 543.71 L386.39 544.07 L387.39 544.48 L388.35 544.93 L389.27 545.42 L390.15 545.96 L391.00 546.54 L391.81 547.16 L392.58 547.82 L393.32 548.52 L394.03 549.27 L394.70 550.06 L395.35 550.90 L395.96 551.77 L396.53 552.70 L397.08 553.66 L397.59 554.67 L398.07 555.73 L398.52 556.84 L398.93 557.99 L399.31 559.19 L399.65 560.45 L399.95 561.76 L400.21 563.13 L400.42 564.57 L400.58 566.08 L400.69 567.67 L400.74 569.35 L400.73 571.15 L400.67 573.10 L400.55 575.27 L400.41 577.80 Z" fill="none" stroke="#808080" stroke-width="1.15"/><path d="M402.68 581.82 L402.85 586.81 L403.06 589.84 L403.22 592.41 L403.33 594.70 L403.36 596.81 L403.32 598.77 L403.22 600.62 L403.05 602.37 L402.83 604.03 L402.56 605.62 L402.24 607.13 L401.88 608.58 L401.47 609.96 L401.03 611.28 L400.55 612.55 L400.04 613.76 L399.48 614.92 L398.90 616.03 L398.28 617.08 L397.62 618.08 L396.93 619.03 L396.20 619.94 L395.44 620.79 L394.64 621.59 L393.80 622.34 L392.93 623.05 L392.01 623.71 L391.06 624.31 L390.06 624.87 L389.01 625.38 L387.92 625.85 L386.77 626.26 L385.56 626.62 L384.29 626.94 L382.93 627.21 L381.48 627.43 L379.89 627.60 L378.12 627.72 L376.02 627.79 L372.58 627.82 L369.13 627.79 L367.03 627.72 L365.26 627.60 L363.68 627.43 L362.22 627.21 L360.87 626.94 L359.59 626.62 L358.38 626.26 L357.23 625.85 L356.14 625.38 L355.09 624.87 L354.10 624.31 L353.14 623.71 L352.23 623.05 L351.35 622.34 L350.51 621.59 L349.71 620.79 L348.95 619.94 L348.22 619.03 L347.53 618.08 L346.87 617.08 L346.25 616.03 L345.67 614.92 L345.11 613.76 L344.60 612.55 L344.11 611.28 L343.67 609.96 L343.25 608.58 L342.88 607.13 L342.55 605.62 L342.25 604.03 L342.00 602.37 L341.80 600.62 L341.64 598.77 L341.54 596.81 L341.49 594.70 L341.49 592.41 L341.55 589.84 L341.64 586.81 L341.72 581.82 L341.64 576.82 L341.55 573.79 L341.49 571.23 L341.49 568.93 L341.54 566.82 L341.64 564.86 L341.80 563.01 L342.00 561.26 L342.25 559.60 L342.55 558.02 L342.88 556.50 L343.25 555.06 L343.67 553.67 L344.11 552.35 L344.60 551.08 L345.11 549.87 L345.67 548.71 L346.25 547.60 L346.87 546.55 L347.53 545.55 L348.22 544.60 L348.95 543.70 L349.71 542.84 L350.51 542.04 L351.35 541.29 L352.23 540.58 L353.14 539.92 L354.10 539.32 L355.09 538.76 L356.14 538.25 L357.23 537.79 L358.38 537.37 L359.59 537.01 L360.87 536.69 L362.22 536.42 L363.68 536.20 L365.26 536.03 L367.03 535.91 L369.13 535.84 L372.58 535.82 L376.02 535.84 L378.12 535.91 L379.89 536.03 L381.48 536.20 L382.93 536.42 L384.29 536.69 L385.56 537.01 L386.77 537.37 L387.92 537.79 L389.01 538.25 L390.06 538.76 L391.06 539.32 L392.01 539.92 L392.93 540.58 L393.80 541.29 L394.64 542.04 L395.44 542.84 L396.20 543.70 L396.93 544.60 L397.62 545.55 L398.28 546.55 L398.90 547.60 L399.48 548.71 L400.04 549.87 L400.55 551.08 L401.03 552.35 L401.47 553.67 L401.88 555.06 L402.24 556.50 L402.56 558.02 L402.83 559.60 L403.05 561.26 L403.22 563.01 L403.32 564.86 L403.36 566.82 L403.33 568.93 L403.22 571.23 L403.06 573.79 L402.85 576.82 Z" fill="none" stroke="#808080" stroke-width="1.15"/><path d="M405.04 581.79 L405.27 587.88 L405.55 591.46 L405.77 594.46 L405.92 597.13 L405.98 599.57 L405.96 601.84 L405.86 603.96 L405.69 605.97 L405.46 607.87 L405.17 609.68 L404.83 611.41 L404.45 613.06 L404.02 614.63 L403.55 616.14 L403.04 617.57 L402.49 618.95 L401.90 620.26 L401.28 621.51 L400.62 622.70 L399.92 623.83 L399.18 624.91 L398.40 625.93 L397.58 626.89 L396.73 627.79 L395.83 628.64 L394.89 629.44 L393.91 630.17 L392.88 630.86 L391.80 631.49 L390.68 632.06 L389.49 632.58 L388.25 633.04 L386.94 633.45 L385.55 633.81 L384.07 634.11 L382.48 634.36 L380.74 634.55 L378.78 634.68 L376.44 634.76 L372.46 634.79 L368.49 634.76 L366.15 634.68 L364.19 634.55 L362.44 634.36 L360.85 634.11 L359.37 633.81 L357.98 633.45 L356.67 633.04 L355.43 632.58 L354.25 632.06 L353.12 631.49 L352.04 630.86 L351.01 630.17 L350.03 629.44 L349.09 628.64 L348.19 627.79 L347.34 626.89 L346.52 625.93 L345.74 624.91 L345.01 623.83 L344.30 622.70 L343.64 621.51 L343.01 620.26 L342.43 618.95 L341.87 617.57 L341.36 616.14 L340.88 614.63 L340.45 613.06 L340.05 611.41 L339.70 609.68 L339.39 607.87 L339.12 605.97 L338.91 603.96 L338.75 601.84 L338.65 599.57 L338.61 597.13 L338.64 594.46 L338.72 591.46 L338.85 587.88 L338.97 581.79 L338.85 575.70 L338.72 572.12 L338.64 569.12 L338.61 566.45 L338.65 564.01 L338.75 561.75 L338.91 559.62 L339.12 557.62 L339.39 555.71 L339.70 553.90 L340.05 552.18 L340.45 550.53 L340.88 548.95 L341.36 547.45 L341.87 546.01 L342.43 544.64 L343.01 543.33 L343.64 542.07 L344.30 540.88 L345.01 539.75 L345.74 538.68 L346.52 537.66 L347.34 536.70 L348.19 535.79 L349.09 534.94 L350.03 534.15 L351.01 533.41 L352.04 532.73 L353.12 532.10 L354.25 531.52 L355.43 531.00 L356.67 530.54 L357.98 530.13 L359.37 529.78 L360.85 529.48 L362.44 529.23 L364.19 529.04 L366.15 528.90 L368.49 528.82 L372.46 528.79 L376.44 528.82 L378.78 528.90 L380.74 529.04 L382.48 529.23 L384.07 529.48 L385.55 529.78 L386.94 530.13 L388.25 530.54 L389.49 531.00 L390.68 531.52 L391.80 532.10 L392.88 532.73 L393.91 533.41 L394.89 534.15 L395.83 534.94 L396.73 535.79 L397.58 536.70 L398.40 537.66 L399.18 538.68 L399.92 539.75 L400.62 540.88 L401.28 542.07 L401.90 543.33 L402.49 544.64 L403.04 546.01 L403.55 547.45 L404.02 548.95 L404.45 550.53 L404.83 552.18 L405.17 553.90 L405.46 555.71 L405.69 557.62 L405.86 559.62 L405.96 561.75 L405.98 564.01 L405.92 566.45 L405.77 569.12 L405.55 572.12 L405.27 575.70 Z" fill="none" stroke="#808080" stroke-width="1.15"/><path d="M407.36 581.77 L407.68 588.80 L408.03 592.81 L408.32 596.14 L408.51 599.08 L408.60 601.76 L408.59 604.25 L408.50 606.57 L408.33 608.75 L408.09 610.82 L407.79 612.79 L407.44 614.66 L407.03 616.44 L406.58 618.14 L406.08 619.76 L405.54 621.31 L404.96 622.79 L404.34 624.20 L403.68 625.55 L402.97 626.83 L402.23 628.04 L401.45 629.20 L400.62 630.29 L399.75 631.32 L398.84 632.29 L397.89 633.20 L396.89 634.05 L395.84 634.84 L394.74 635.57 L393.59 636.24 L392.38 636.85 L391.11 637.41 L389.77 637.90 L388.36 638.34 L386.86 638.72 L385.26 639.04 L383.53 639.30 L381.63 639.51 L379.48 639.65 L376.89 639.74 L372.35 639.77 L367.80 639.74 L365.21 639.65 L363.06 639.51 L361.16 639.30 L359.43 639.04 L357.83 638.72 L356.33 638.34 L354.92 637.90 L353.58 637.41 L352.31 636.85 L351.11 636.24 L349.95 635.57 L348.85 634.84 L347.81 634.05 L346.80 633.20 L345.85 632.29 L344.94 631.32 L344.07 630.29 L343.24 629.20 L342.46 628.04 L341.72 626.83 L341.01 625.55 L340.35 624.20 L339.72 622.79 L339.14 621.31 L338.60 619.76 L338.09 618.14 L337.63 616.44 L337.22 614.66 L336.84 612.79 L336.52 610.82 L336.24 608.75 L336.02 606.57 L335.86 604.25 L335.76 601.76 L335.73 599.08 L335.78 596.14 L335.90 592.81 L336.07 588.80 L336.23 581.77 L336.07 574.74 L335.90 570.72 L335.78 567.40 L335.73 564.45 L335.76 561.77 L335.86 559.29 L336.02 556.97 L336.24 554.79 L336.52 552.72 L336.84 550.75 L337.22 548.88 L337.63 547.10 L338.09 545.40 L338.60 543.77 L339.14 542.22 L339.72 540.74 L340.35 539.33 L341.01 537.99 L341.72 536.71 L342.46 535.49 L343.24 534.34 L344.07 533.25 L344.94 532.22 L345.85 531.25 L346.80 530.34 L347.81 529.49 L348.85 528.70 L349.95 527.97 L351.11 527.30 L352.31 526.69 L353.58 526.13 L354.92 525.64 L356.33 525.20 L357.83 524.82 L359.43 524.50 L361.16 524.24 L363.06 524.03 L365.21 523.89 L367.80 523.80 L372.35 523.77 L376.89 523.80 L379.48 523.89 L381.63 524.03 L383.53 524.24 L385.26 524.50 L386.86 524.82 L388.36 525.20 L389.77 525.64 L391.11 526.13 L392.38 526.69 L393.59 527.30 L394.74 527.97 L395.84 528.70 L396.89 529.49 L397.89 530.34 L398.84 531.25 L399.75 532.22 L400.62 533.25 L401.45 534.34 L402.23 535.49 L402.97 536.71 L403.68 537.99 L404.34 539.33 L404.96 540.74 L405.54 542.22 L406.08 543.77 L406.58 545.40 L407.03 547.10 L407.44 548.88 L407.79 550.75 L408.09 552.72 L408.33 554.79 L408.50 556.97 L408.59 559.29 L408.60 561.77 L408.51 564.45 L408.32 567.40 L408.03 570.72 L407.68 574.74 Z" fill="none" stroke="#808080" stroke-width="1.15"/><path d="M409.64 581.75 L410.06 589.70 L410.51 594.10 L410.86 597.72 L411.10 600.90 L411.23 603.79 L411.24 606.45 L411.15 608.94 L410.98 611.28 L410.73 613.48 L410.42 615.58 L410.04 617.56 L409.62 619.46 L409.14 621.26 L408.62 622.98 L408.05 624.62 L407.44 626.19 L406.79 627.68 L406.09 629.10 L405.35 630.45 L404.56 631.73 L403.74 632.94 L402.86 634.09 L401.95 635.17 L400.98 636.19 L399.97 637.15 L398.91 638.04 L397.80 638.87 L396.63 639.64 L395.40 640.34 L394.12 640.99 L392.76 641.57 L391.34 642.09 L389.83 642.55 L388.22 642.95 L386.49 643.28 L384.63 643.56 L382.57 643.77 L380.22 643.92 L377.38 644.02 L372.23 644.05 L367.08 644.02 L364.24 643.92 L361.90 643.77 L359.84 643.56 L357.97 643.28 L356.24 642.95 L354.64 642.55 L353.12 642.09 L351.70 641.57 L350.34 640.99 L349.06 640.34 L347.83 639.64 L346.66 638.87 L345.55 638.04 L344.49 637.15 L343.48 636.19 L342.51 635.17 L341.60 634.09 L340.72 632.94 L339.90 631.73 L339.11 630.45 L338.37 629.10 L337.67 627.68 L337.01 626.19 L336.40 624.62 L335.83 622.98 L335.30 621.26 L334.81 619.46 L334.37 617.56 L333.98 615.58 L333.64 613.48 L333.35 611.28 L333.12 608.94 L332.96 606.45 L332.87 603.79 L332.85 600.90 L332.92 597.72 L333.08 594.10 L333.30 589.70 L333.52 581.75 L333.30 573.79 L333.08 569.39 L332.92 565.77 L332.85 562.59 L332.87 559.70 L332.96 557.04 L333.12 554.55 L333.35 552.22 L333.64 550.01 L333.98 547.92 L334.37 545.93 L334.81 544.03 L335.30 542.23 L335.83 540.51 L336.40 538.87 L337.01 537.31 L337.67 535.81 L338.37 534.40 L339.11 533.05 L339.90 531.77 L340.72 530.55 L341.60 529.40 L342.51 528.32 L343.48 527.30 L344.49 526.34 L345.55 525.45 L346.66 524.62 L347.83 523.85 L349.06 523.15 L350.34 522.50 L351.70 521.92 L353.12 521.40 L354.64 520.94 L356.24 520.55 L357.97 520.21 L359.84 519.93 L361.90 519.72 L364.24 519.57 L367.08 519.48 L372.23 519.45 L377.38 519.48 L380.22 519.57 L382.57 519.72 L384.63 519.93 L386.49 520.21 L388.22 520.55 L389.83 520.94 L391.34 521.40 L392.76 521.92 L394.12 522.50 L395.40 523.15 L396.63 523.85 L397.80 524.62 L398.91 525.45 L399.97 526.34 L400.98 527.30 L401.95 528.32 L402.86 529.40 L403.74 530.55 L404.56 531.77 L405.35 533.05 L406.09 534.40 L406.79 535.81 L407.44 537.31 L408.05 538.87 L408.62 540.51 L409.14 542.23 L409.62 544.03 L410.04 545.93 L410.42 547.92 L410.73 550.01 L410.98 552.22 L411.15 554.55 L411.24 557.04 L411.23 559.70 L411.10 562.59 L410.86 565.77 L410.51 569.39 L410.06 573.79 Z" fill="none" stroke="#808080" stroke-width="1.15"/><path d="M411.88 581.72 L412.42 590.58 L412.98 595.33 L413.41 599.20 L413.70 602.60 L413.86 605.66 L413.88 608.48 L413.80 611.11 L413.63 613.57 L413.37 615.89 L413.05 618.09 L412.66 620.17 L412.21 622.16 L411.72 624.04 L411.17 625.84 L410.58 627.55 L409.93 629.18 L409.25 630.74 L408.52 632.22 L407.74 633.62 L406.91 634.95 L406.04 636.21 L405.13 637.41 L404.16 638.53 L403.15 639.59 L402.08 640.58 L400.96 641.51 L399.79 642.37 L398.55 643.16 L397.26 643.89 L395.89 644.56 L394.46 645.16 L392.94 645.70 L391.33 646.17 L389.61 646.59 L387.77 646.93 L385.76 647.22 L383.55 647.44 L381.01 647.60 L377.90 647.69 L372.12 647.72 L366.33 647.69 L363.22 647.60 L360.69 647.44 L358.47 647.22 L356.46 646.93 L354.62 646.59 L352.90 646.17 L351.29 645.70 L349.77 645.16 L348.34 644.56 L346.97 643.89 L345.68 643.16 L344.45 642.37 L343.27 641.51 L342.15 640.58 L341.08 639.59 L340.07 638.53 L339.10 637.41 L338.18 636.21 L337.31 634.95 L336.49 633.62 L335.71 632.22 L334.98 630.74 L334.29 629.18 L333.64 627.55 L333.05 625.84 L332.49 624.04 L331.98 622.16 L331.52 620.17 L331.12 618.09 L330.76 615.89 L330.46 613.57 L330.22 611.11 L330.06 608.48 L329.97 605.66 L329.97 602.60 L330.07 599.20 L330.26 595.33 L330.54 590.58 L330.82 581.72 L330.54 572.87 L330.26 568.12 L330.07 564.24 L329.97 560.85 L329.97 557.78 L330.06 554.96 L330.22 552.34 L330.46 549.88 L330.76 547.56 L331.12 545.36 L331.52 543.27 L331.98 541.29 L332.49 539.40 L333.05 537.61 L333.64 535.89 L334.29 534.26 L334.98 532.71 L335.71 531.23 L336.49 529.83 L337.31 528.49 L338.18 527.23 L339.10 526.04 L340.07 524.91 L341.08 523.86 L342.15 522.86 L343.27 521.94 L344.45 521.08 L345.68 520.28 L346.97 519.55 L348.34 518.89 L349.77 518.28 L351.29 517.75 L352.90 517.27 L354.62 516.86 L356.46 516.51 L358.47 516.23 L360.69 516.01 L363.22 515.85 L366.33 515.75 L372.12 515.72 L377.90 515.75 L381.01 515.85 L383.55 516.01 L385.76 516.23 L387.77 516.51 L389.61 516.86 L391.33 517.27 L392.94 517.75 L394.46 518.28 L395.89 518.89 L397.26 519.55 L398.55 520.28 L399.79 521.08 L400.96 521.94 L402.08 522.86 L403.15 523.86 L404.16 524.91 L405.13 526.04 L406.04 527.23 L406.91 528.49 L407.74 529.83 L408.52 531.23 L409.25 532.71 L409.93 534.26 L410.58 535.89 L411.17 537.61 L411.72 539.40 L412.21 541.29 L412.66 543.27 L413.05 545.36 L413.37 547.56 L413.63 549.88 L413.80 552.34 L413.88 554.96 L413.86 557.78 L413.70 560.85 L413.41 564.24 L412.98 568.12 L412.42 572.87 Z" fill="none" stroke="#808080" stroke-width="1.15"/><path d="M414.09 581.70 L414.77 591.44 L415.44 596.52 L415.96 600.63 L416.31 604.21 L416.49 607.44 L416.53 610.40 L416.46 613.14 L416.28 615.71 L416.02 618.13 L415.68 620.42 L415.28 622.58 L414.81 624.64 L414.30 626.60 L413.73 628.46 L413.11 630.23 L412.44 631.92 L411.72 633.52 L410.96 635.05 L410.14 636.50 L409.28 637.87 L408.37 639.17 L407.41 640.40 L406.40 641.56 L405.33 642.65 L404.21 643.67 L403.04 644.62 L401.80 645.50 L400.50 646.32 L399.14 647.07 L397.70 647.75 L396.18 648.37 L394.58 648.92 L392.87 649.41 L391.05 649.83 L389.08 650.19 L386.94 650.48 L384.57 650.71 L381.84 650.87 L378.47 650.97 L372.00 651.00 L365.53 650.97 L362.16 650.87 L359.43 650.71 L357.06 650.48 L354.92 650.19 L352.95 649.83 L351.13 649.41 L349.42 648.92 L347.82 648.37 L346.30 647.75 L344.86 647.07 L343.50 646.32 L342.20 645.50 L340.96 644.62 L339.79 643.67 L338.67 642.65 L337.60 641.56 L336.59 640.40 L335.63 639.17 L334.72 637.87 L333.85 636.50 L333.04 635.05 L332.27 633.52 L331.55 631.92 L330.88 630.23 L330.26 628.46 L329.68 626.60 L329.15 624.64 L328.67 622.58 L328.25 620.42 L327.88 618.13 L327.57 615.71 L327.32 613.14 L327.16 610.40 L327.07 607.44 L327.09 604.21 L327.21 600.63 L327.44 596.52 L327.79 591.44 L328.15 581.70 L327.79 571.96 L327.44 566.88 L327.21 562.77 L327.09 559.19 L327.07 555.96 L327.16 553.00 L327.32 550.26 L327.57 547.69 L327.88 545.27 L328.25 542.98 L328.67 540.82 L329.15 538.76 L329.68 536.80 L330.26 534.94 L330.88 533.17 L331.55 531.48 L332.27 529.88 L333.04 528.35 L333.85 526.90 L334.72 525.53 L335.63 524.23 L336.59 523.00 L337.60 521.84 L338.67 520.75 L339.79 519.73 L340.96 518.78 L342.20 517.90 L343.50 517.08 L344.86 516.33 L346.30 515.65 L347.82 515.03 L349.42 514.48 L351.13 513.99 L352.95 513.57 L354.92 513.21 L357.06 512.92 L359.43 512.69 L362.16 512.53 L365.53 512.43 L372.00 512.40 L378.47 512.43 L381.84 512.53 L384.57 512.69 L386.94 512.92 L389.08 513.21 L391.05 513.57 L392.87 513.99 L394.58 514.48 L396.18 515.03 L397.70 515.65 L399.14 516.33 L400.50 517.08 L401.80 517.90 L403.04 518.78 L404.21 519.73 L405.33 520.75 L406.40 521.84 L407.41 523.00 L408.37 524.23 L409.28 525.53 L410.14 526.90 L410.96 528.35 L411.72 529.88 L412.44 531.48 L413.11 533.17 L413.73 534.94 L414.30 536.80 L414.81 538.76 L415.28 540.82 L415.68 542.98 L416.02 545.27 L416.28 547.69 L416.46 550.26 L416.53 553.00 L416.49 555.96 L416.31 559.19 L415.96 562.77 L415.44 566.88 L414.77 571.96 Z" fill="none" stroke="#808080" stroke-width="1.15"/><path d="M328.8 577.6 L415.5 580.8 Q417.2 583 415.5 585 L328.8 581.6 Q327.2 579.6 328.8 577.6 Z" fill="#fff" stroke="#8a8a8a" stroke-width="1"/>
<path d="M504.7 522.3 L511.4 523.9 Q512.6 524.6 512.3 526.2 L503.8 583.7 Q500.5 583.6 496.5 580.8 L493.2 577.2 Q491.2 574.5 491.7 570.8 Z" stroke="#2a2a2a" stroke-width="1.3" fill="#fff" stroke-linejoin="round"/><path d="M507.8 528 L497.6 580.4" stroke="#2a2a2a" stroke-width="1.15" fill="none"/><path d="M514.8 525.7 L567.4 525.7 Q569.4 525.7 569.4 527.7 L568.8 643.4 Q568.6 645.4 566.8 645.4 L552.5 644.7 L547.7 636 L548.2 560 L533 560 Q532.8 556.2 531.3 555.2 Q529.6 554.6 529.3 557 Q528.3 558.6 526.6 558.4 L519 558.1 Q512.3 557.4 509.8 552.5 Q507.6 548 508 540 Q508.8 530.5 514.8 525.7 Z" stroke="#2a2a2a" stroke-width="1.3" fill="#fff" stroke-linejoin="round"/><path d="M519.9 547.1 L554.7 548.2 L549.1 559.6 M554.7 548.2 L553.4 644.7" stroke="#2a2a2a" stroke-width="1.2" fill="none"/><path d="M510.6 531.5 Q508.6 541.5 513.4 545.4 Q516.2 547.2 519.9 547.1" stroke="#2a2a2a" stroke-width="1.15" fill="none"/><path d="M509.6 549.3 Q511.8 555 518.5 555.6 L526.5 556" stroke="#555" stroke-width="0.9" fill="none"/><circle cx="519.3" cy="536.4" r="7.9" fill="#fff" stroke="#2a2a2a" stroke-width="1.2"/><path d="M549.3 562 L549.3 626" stroke="#555" stroke-width="0.9" fill="none"/><path d="M549.1 610.5 L549.1 624" stroke="#111" stroke-width="1.6" fill="none"/>
<rect x="641" y="512.6" width="93.3" height="135" fill="none" stroke="#5a5a5a" stroke-width="1.7"/><line x1="641" y1="523" x2="734.3" y2="523" stroke="#707070" stroke-width="1.9"/><path d="M673.8 530 L673.8 565.5 Q673.8 570.6 679 570.6 L716.5 570.6 Q721.8 570.6 721.8 576 L721.8 635 Q721.8 640.3 716.5 640.3 L652.5 640.3" fill="none" stroke="#3a3a3a" stroke-width="4"/><path d="M673.8 530 L673.8 565.5 Q673.8 570.6 679 570.6 L716.5 570.6 Q721.8 570.6 721.8 576 L721.8 635 Q721.8 640.3 716.5 640.3 L652.5 640.3" fill="none" stroke="#707070" stroke-width="2.2"/><path d="M671.8 530 L673.8 526.5 L675.8 530 Z" fill="#3a3a3a"/>
<path d="M96.5 219 L107 202 L179 190.6 L228 197.2 Q234 201 238.6 211.9 L241.9 402.9 L237.6 413.9 L158.8 430.2 L123.1 428.6 L104.4 423.1 L96.5 413.8 Z" fill="#fff" stroke="#3a3a3a" stroke-width="1.2" stroke-linejoin="round" stroke-linecap="round" />
<path d="M115 224 L125 203.5 L179 195.6 L227 198.2" fill="none" stroke="#555" stroke-width="0.9" stroke-linejoin="round" stroke-linecap="round" />
<path d="M115 224 L116.4 412 Q117.6 423.5 123.1 428.6" fill="none" stroke="#555" stroke-width="0.9" stroke-linejoin="round" stroke-linecap="round" />
<path d="M96.5 252.5 Q86 251 81.5 258 Q78.5 266 82 273 L86.5 280.5 L86.5 335 L92.8 342 L92.8 368.5" fill="none" stroke="#3a3a3a" stroke-width="1.0" stroke-linejoin="round" stroke-linecap="round" />
<path d="M96.5 259.5 Q87 259.5 86 266 Q86.5 273 96.5 273.5" fill="none" stroke="#3a3a3a" stroke-width="0.9" stroke-linejoin="round" stroke-linecap="round" />
<path d="M92.8 281 L92.8 335" fill="none" stroke="#555" stroke-width="0.9" stroke-linejoin="round" stroke-linecap="round" />
<path d="M92.8 368.5 Q81 370 79.8 378.8 Q80 390 96.3 403.3" fill="none" stroke="#3a3a3a" stroke-width="1.0" stroke-linejoin="round" stroke-linecap="round" />
<path d="M96.3 373.5 Q86 374.5 85.8 381 Q86.5 388.5 96.3 389.3" fill="none" stroke="#3a3a3a" stroke-width="0.9" stroke-linejoin="round" stroke-linecap="round" />
<path d="M105.5 226.5 Q103.3 226.5 103.3 228.5 L103.3 269.5 Q103.3 271.5 105.5 271.5" fill="none" stroke="#222" stroke-width="1.4" stroke-linejoin="round" stroke-linecap="round" />
<path d="M104.5 226.5 L112 226.5" fill="none" stroke="#222" stroke-width="1.6" stroke-linejoin="round" stroke-linecap="round" />
<path d="M111.5 226.5 Q113 224.3 120 224.3 Q128.8 224.5 128.8 226.5 Q128.8 228.6 120 228.7 Q113 228.7 111.5 226.5 Z" fill="#a8a8a8" stroke="#3a3a3a" stroke-width="1"/>
<path d="M113.5 226.7 L126 226.7" stroke="#e0e0e0" stroke-width="0.8"/>
<path d="M104.5 239.5 L112 239.5" fill="none" stroke="#222" stroke-width="1.6" stroke-linejoin="round" stroke-linecap="round" />
<path d="M111.5 239.5 Q113 237.3 120 237.3 Q128.8 237.5 128.8 239.5 Q128.8 241.6 120 241.7 Q113 241.7 111.5 239.5 Z" fill="#a8a8a8" stroke="#3a3a3a" stroke-width="1"/>
<path d="M113.5 239.7 L126 239.7" stroke="#e0e0e0" stroke-width="0.8"/>
<path d="M104.5 260 L112 260" fill="none" stroke="#222" stroke-width="1.6" stroke-linejoin="round" stroke-linecap="round" />
<path d="M111.5 260 Q113 257.8 120 257.8 Q128.8 258 128.8 260 Q128.8 262.1 120 262.2 Q113 262.2 111.5 260 Z" fill="#a8a8a8" stroke="#3a3a3a" stroke-width="1"/>
<path d="M113.5 260.2 L126 260.2" stroke="#e0e0e0" stroke-width="0.8"/>
<path d="M104.5 271.5 L112 271.5" fill="none" stroke="#222" stroke-width="1.6" stroke-linejoin="round" stroke-linecap="round" />
<path d="M111.5 271.5 Q113 269.3 120 269.3 Q128.8 269.5 128.8 271.5 Q128.8 273.6 120 273.7 Q113 273.7 111.5 271.5 Z" fill="#a8a8a8" stroke="#3a3a3a" stroke-width="1"/>
<path d="M113.5 271.7 L126 271.7" stroke="#e0e0e0" stroke-width="0.8"/>
<path d="M115.5 226.5 L115.5 271.5" fill="none" stroke="#666" stroke-width="0.8" stroke-linejoin="round" stroke-linecap="round" />
<path d="M105.5 364.8 Q103.3 364.8 103.3 366.8 L103.3 408.3 Q103.3 410.3 105.5 410.3" fill="none" stroke="#222" stroke-width="1.4" stroke-linejoin="round" stroke-linecap="round" />
<path d="M104.5 364.8 L112 364.8" fill="none" stroke="#222" stroke-width="1.6" stroke-linejoin="round" stroke-linecap="round" />
<path d="M111.5 364.8 Q113 362.6 120 362.6 Q128.8 362.8 128.8 364.8 Q128.8 366.90000000000003 120 367.0 Q113 367.0 111.5 364.8 Z" fill="#a8a8a8" stroke="#3a3a3a" stroke-width="1"/>
<path d="M113.5 365.0 L126 365.0" stroke="#e0e0e0" stroke-width="0.8"/>
<path d="M104.5 376.2 L112 376.2" fill="none" stroke="#222" stroke-width="1.6" stroke-linejoin="round" stroke-linecap="round" />
<path d="M111.5 376.2 Q113 374.0 120 374.0 Q128.8 374.2 128.8 376.2 Q128.8 378.3 120 378.4 Q113 378.4 111.5 376.2 Z" fill="#a8a8a8" stroke="#3a3a3a" stroke-width="1"/>
<path d="M113.5 376.4 L126 376.4" stroke="#e0e0e0" stroke-width="0.8"/>
<path d="M104.5 399 L112 399" fill="none" stroke="#222" stroke-width="1.6" stroke-linejoin="round" stroke-linecap="round" />
<path d="M111.5 399 Q113 396.8 120 396.8 Q128.8 397 128.8 399 Q128.8 401.1 120 401.2 Q113 401.2 111.5 399 Z" fill="#a8a8a8" stroke="#3a3a3a" stroke-width="1"/>
<path d="M113.5 399.2 L126 399.2" stroke="#e0e0e0" stroke-width="0.8"/>
<path d="M104.5 410.3 L112 410.3" fill="none" stroke="#222" stroke-width="1.6" stroke-linejoin="round" stroke-linecap="round" />
<path d="M111.5 410.3 Q113 408.1 120 408.1 Q128.8 408.3 128.8 410.3 Q128.8 412.40000000000003 120 412.5 Q113 412.5 111.5 410.3 Z" fill="#a8a8a8" stroke="#3a3a3a" stroke-width="1"/>
<path d="M113.5 410.5 L126 410.5" stroke="#e0e0e0" stroke-width="0.8"/>
<path d="M115.5 364.8 L115.5 410.3" fill="none" stroke="#666" stroke-width="0.8" stroke-linejoin="round" stroke-linecap="round" />
<path d="M116.4 245.5 L126.5 247.2 Q131 248 134.8 250.6 Q133 253.5 130.5 254 L116.4 252.3" fill="none" stroke="#333" stroke-width="1.0" stroke-linejoin="round" stroke-linecap="round" />
<path d="M125.8 248 Q128.3 251 127.6 253.6" fill="none" stroke="#555" stroke-width="0.8" stroke-linejoin="round" stroke-linecap="round" />
<path d="M121.5 290 Q121.5 282 128.5 282 Q136.5 282.5 137.5 293 Q137.5 306 128 306.5 Q121.5 306 121.5 298 Z" fill="none" stroke="#444" stroke-width="1.0" stroke-linejoin="round" stroke-linecap="round" />
<path d="M125 290 Q125.5 286 129 286 Q133.5 287 133.8 294 Q133.5 302 128.5 302.5" fill="none" stroke="#666" stroke-width="0.8" stroke-linejoin="round" stroke-linecap="round" />
<path d="M147.5 227 L158.8 210 L228 199 Q233 201.5 237 211.5 L239.8 400 L235.2 411.6 L158.8 430.2 L148.3 417.5 Z" fill="#fff" stroke="#3a3a3a" stroke-width="1.1" stroke-linejoin="round" stroke-linecap="round" />
<path d="M237 211.5 L233.8 205.3 L229.2 206.2 L228.2 208.8 L167 217.6 L160.5 232.5 L160.5 413.8 L166.3 421.3 L234.5 411.8" fill="none" stroke="#444" stroke-width="0.95" stroke-linejoin="round" stroke-linecap="round" />
<path d="M164.6 231.5 L171.5 218.6 L174 217.6" fill="none" stroke="#777" stroke-width="0.8" stroke-linejoin="round" stroke-linecap="round" />
<path d="M164.6 231.5 L164.6 275 L179.5 290.5" fill="none" stroke="#777" stroke-width="0.8" stroke-linejoin="round" stroke-linecap="round" />
<path d="M169.3 233 L175.5 220.5 L215 215.4" fill="none" stroke="#555" stroke-width="0.9" stroke-linejoin="round" stroke-linecap="round" />
<path d="M169.3 233 L169.3 278 L180.8 291.2" fill="none" stroke="#444" stroke-width="0.95" stroke-linejoin="round" stroke-linecap="round" />
<path d="M237.4 262 L226.3 283.5" fill="none" stroke="#444" stroke-width="0.95" stroke-linejoin="round" stroke-linecap="round" />
<path d="M180.5 291 L180.5 350 L181 420" fill="none" stroke="#444" stroke-width="0.9" stroke-linejoin="round" stroke-linecap="round" />
<path d="M182.8 294 L182.8 349" fill="none" stroke="#444" stroke-width="0.9" stroke-linejoin="round" stroke-linecap="round" />
<path d="M226.3 283.5 L227 348 L228 412.3" fill="none" stroke="#444" stroke-width="0.9" stroke-linejoin="round" stroke-linecap="round" />
<path d="M180.5 291 Q203 286.5 226.5 285" fill="none" stroke="#444" stroke-width="1.0" stroke-linejoin="round" stroke-linecap="round" />
<path d="M182.8 294 Q204 289.5 226 288.5" fill="none" stroke="#666" stroke-width="0.8" stroke-linejoin="round" stroke-linecap="round" />
<path d="M189.5 302 Q206 299 223.5 298.5 L224 338 Q206 339 190 341.5 Z" fill="none" stroke="#444" stroke-width="1.0" stroke-linejoin="round" stroke-linecap="round" />
<path d="M180.8 348 Q204 345 227 343" fill="none" stroke="#444" stroke-width="1.0" stroke-linejoin="round" stroke-linecap="round" />
<path d="M181 351 Q204 348 227 346" fill="none" stroke="#555" stroke-width="0.9" stroke-linejoin="round" stroke-linecap="round" />
<path d="M182 352.4 L226 346.4 L228 412.2 L182.6 419.8 Z" fill="none" stroke="#444" stroke-width="1.0" stroke-linejoin="round" stroke-linecap="round" />
<path d="M192.5 220 Q172 230 172.5 251 Q173 272 192.5 281.5 Q195 280.5 193.6 271 Q192.5 251 193.2 230 Q194.5 221 192.5 220 Z" fill="none" stroke="#333" stroke-width="1.1" stroke-linejoin="round" stroke-linecap="round" />
<path d="M215 215.5 Q235 220 235.5 245 Q235 268 218.5 276 Q214.5 275.5 215 268 L214.6 228 Q213.8 217 215 215.5 Z" fill="none" stroke="#333" stroke-width="1.1" stroke-linejoin="round" stroke-linecap="round" />
<ellipse cx="203" cy="248.8" rx="15.5" ry="22.3" fill="#fff" stroke="#8a8a8a" stroke-width="1"/>
<ellipse cx="202.2" cy="248.8" rx="13.8" ry="20.3" fill="none" stroke="#c4c4c4" stroke-width="0.7"/>
<ellipse cx="209.5" cy="249.1" rx="10.9" ry="17.6" fill="#fff" stroke="#1a1a1a" stroke-width="1.6"/>
<path d="M211 232.5 Q221.5 236 221.2 249 Q221 263 211 266.5 Q217.5 260 218 249 Q218 238 211 232.5 Z" fill="#1a1a1a" stroke="#111" stroke-width="0.6" stroke-linejoin="round" stroke-linecap="round" />
<ellipse cx="208.5" cy="249.6" rx="8" ry="15.2" fill="none" stroke="#555" stroke-width="1"/>
<ellipse cx="207" cy="249.3" rx="5.8" ry="10.6" fill="none" stroke="#888" stroke-width="0.8"/>
<ellipse cx="207" cy="249.3" rx="3.5" ry="7.5" fill="none" stroke="#bbb" stroke-width="0.6"/>
<ellipse cx="202.6" cy="221.6" rx="3.0" ry="4.8" fill="#fff" stroke="#444" stroke-width="1"/>
<path d="M202.5 225.9 L202.6 226.8" fill="none" stroke="#444" stroke-width="0.9" stroke-linejoin="round" stroke-linecap="round" />
<path d="M203.6 270.5 L203.6 273.8" fill="none" stroke="#444" stroke-width="1.3" stroke-linejoin="round" stroke-linecap="round" />
<path d="M165.3 287 Q165.3 285.2 167 285.8 L175 294.5 L175.2 328.3 Q175.2 330 173.4 330 L167.1 330 Q165.3 330 165.3 328.3 Z" fill="none" stroke="#333" stroke-width="1.0" stroke-linejoin="round" stroke-linecap="round" />
<path d="M167.5 290.5 L173.3 296.8 L173.3 327.6 L167.5 327.6 Z" fill="none" stroke="#555" stroke-width="0.8" stroke-linejoin="round" stroke-linecap="round" />
<path d="M166 335.8 Q166 334.3 167.5 334.3 L174.3 334.3 Q175.8 334.3 175.8 335.8 L175.8 345.9 Q175.8 347.4 174.3 347.4 L167.5 347.4 Q166 347.4 166 345.9 Z" fill="none" stroke="#333" stroke-width="1.0" stroke-linejoin="round" stroke-linecap="round" />
<path d="M168 336.8 L173.5 336.8 L173.5 344.9 L168 344.9 Z" fill="none" stroke="#666" stroke-width="0.7" stroke-linejoin="round" stroke-linecap="round" />
<path d="M166 355.3 Q166 353.8 167.5 353.8 L174.3 353.8 Q175.8 353.8 175.8 355.3 L175.8 367.4 Q175.8 368.9 174.3 368.9 L167.5 368.9 Q166 368.9 166 367.4 Z" fill="none" stroke="#333" stroke-width="1.0" stroke-linejoin="round" stroke-linecap="round" />
<path d="M168 356.3 L173.5 356.3 L173.5 366.4 L168 366.4 Z" fill="none" stroke="#666" stroke-width="0.7" stroke-linejoin="round" stroke-linecap="round" />
<path d="M166 375.2 Q166 373.7 167.5 373.7 L174.3 373.7 Q175.8 373.7 175.8 375.2 L175.8 387.3 Q175.8 388.8 174.3 388.8 L167.5 388.8 Q166 388.8 166 387.3 Z" fill="none" stroke="#333" stroke-width="1.0" stroke-linejoin="round" stroke-linecap="round" />
<path d="M168 376.2 L173.5 376.2 L173.5 386.3 L168 386.3 Z" fill="none" stroke="#666" stroke-width="0.7" stroke-linejoin="round" stroke-linecap="round" />
<path d="M166.8 395 Q166.8 393.6 168.3 393.6 L175 393.6 Q176.4 393.6 176.4 395 L176.4 415.5 Q176.4 417 175 417 L173 417 L166.8 409 Z" fill="none" stroke="#333" stroke-width="1.0" stroke-linejoin="round" stroke-linecap="round" />
<path d="M169 396 L174.3 396 L174.3 413.5 L169 406.5 Z" fill="none" stroke="#666" stroke-width="0.7" stroke-linejoin="round" stroke-linecap="round" />
<path d="M229.6 316.5 L229.6 282.5 L236.3 272.3 Q237.6 271.8 237.6 273.6 L237.6 316.2 Q237.6 318 235.8 318 L231.3 318 Q229.6 318 229.6 316.5 Z" fill="none" stroke="#333" stroke-width="1.0" stroke-linejoin="round" stroke-linecap="round" />
<path d="M231.4 283.5 L235.8 277 L235.8 315.8 L231.4 315.8 Z" fill="none" stroke="#666" stroke-width="0.75" stroke-linejoin="round" stroke-linecap="round" />
<path d="M230.5 324.1 Q230.5 322.6 232 322.6 L237 322.6 Q238.5 322.6 238.5 324.1 L238.5 334.9 Q238.5 336.4 237 336.4 L232 336.4 Q230.5 336.4 230.5 334.9 Z" fill="none" stroke="#333" stroke-width="1.0" stroke-linejoin="round" stroke-linecap="round" />
<path d="M232.3 325.1 L236.8 325.1 L236.8 333.9 L232.3 333.9 Z" fill="none" stroke="#666" stroke-width="0.7" stroke-linejoin="round" stroke-linecap="round" />
<path d="M230.5 344.3 Q230.5 342.8 232 342.8 L237 342.8 Q238.5 342.8 238.5 344.3 L238.5 355.0 Q238.5 356.5 237 356.5 L232 356.5 Q230.5 356.5 230.5 355.0 Z" fill="none" stroke="#333" stroke-width="1.0" stroke-linejoin="round" stroke-linecap="round" />
<path d="M232.3 345.3 L236.8 345.3 L236.8 354.0 L232.3 354.0 Z" fill="none" stroke="#666" stroke-width="0.7" stroke-linejoin="round" stroke-linecap="round" />
<path d="M230.5 363.5 Q230.5 362 232 362 L237 362 Q238.5 362 238.5 363.5 L238.5 375.0 Q238.5 376.5 237 376.5 L232 376.5 Q230.5 376.5 230.5 375.0 Z" fill="none" stroke="#333" stroke-width="1.0" stroke-linejoin="round" stroke-linecap="round" />
<path d="M232.3 364.5 L236.8 364.5 L236.8 374.0 L232.3 374.0 Z" fill="none" stroke="#666" stroke-width="0.7" stroke-linejoin="round" stroke-linecap="round" />
<path d="M230.8 382.8 Q230.8 381.3 232.3 381.3 L237.5 381.3 Q239 381.3 239 382.8 L239 397 L232.5 404.6 Q230.8 404.6 230.8 403 Z" fill="none" stroke="#333" stroke-width="1.0" stroke-linejoin="round" stroke-linecap="round" />
<path d="M232.6 384 L237 384 L237 396 L232.6 401.5 Z" fill="none" stroke="#666" stroke-width="0.7" stroke-linejoin="round" stroke-linecap="round" />
<circle cx="209.8" cy="377.7" r="1.15" fill="#111"/>
<circle cx="208.7" cy="380.8" r="1.15" fill="#111"/>
<circle cx="206.3" cy="382.7" r="1.15" fill="#111"/>
<circle cx="203.6" cy="382.7" r="1.15" fill="#111"/>
<circle cx="201.3" cy="380.8" r="1.15" fill="#111"/>
<circle cx="200.1" cy="377.6" r="1.15" fill="#111"/>
<circle cx="200.6" cy="374.2" r="1.15" fill="#111"/>
<circle cx="202.4" cy="371.6" r="1.15" fill="#111"/>
<circle cx="205.0" cy="370.7" r="1.15" fill="#111"/>
<circle cx="207.7" cy="371.7" r="1.15" fill="#111"/>
<circle cx="209.5" cy="374.3" r="1.15" fill="#111"/>
<circle cx="212.6" cy="377.4" r="1.15" fill="#111"/>
<circle cx="211.8" cy="381.8" r="1.15" fill="#111"/>
<circle cx="209.8" cy="385.3" r="1.15" fill="#111"/>
<circle cx="207.0" cy="387.4" r="1.15" fill="#111"/>
<circle cx="203.8" cy="387.7" r="1.15" fill="#111"/>
<circle cx="200.9" cy="386.1" r="1.15" fill="#111"/>
<circle cx="198.6" cy="382.8" r="1.15" fill="#111"/>
<circle cx="197.5" cy="378.5" r="1.15" fill="#111"/>
<circle cx="197.7" cy="374.0" r="1.15" fill="#111"/>
<circle cx="199.1" cy="369.9" r="1.15" fill="#111"/>
<circle cx="201.5" cy="367.0" r="1.15" fill="#111"/>
<circle cx="204.6" cy="365.8" r="1.15" fill="#111"/>
<circle cx="207.7" cy="366.5" r="1.15" fill="#111"/>
<circle cx="210.4" cy="369.0" r="1.15" fill="#111"/>
<circle cx="212.1" cy="372.8" r="1.15" fill="#111"/>
<circle cx="215.1" cy="378.8" r="1.15" fill="#111"/>
<circle cx="214.2" cy="383.9" r="1.15" fill="#111"/>
<circle cx="212.2" cy="388.3" r="1.15" fill="#111"/>
<circle cx="209.5" cy="391.4" r="1.15" fill="#111"/>
<circle cx="206.3" cy="393.0" r="1.15" fill="#111"/>
<circle cx="202.9" cy="392.8" r="1.15" fill="#111"/>
<circle cx="199.8" cy="390.9" r="1.15" fill="#111"/>
<circle cx="197.2" cy="387.4" r="1.15" fill="#111"/>
<circle cx="195.5" cy="382.8" r="1.15" fill="#111"/>
<circle cx="194.8" cy="377.5" r="1.15" fill="#111"/>
<circle cx="195.2" cy="372.2" r="1.15" fill="#111"/>
<circle cx="196.7" cy="367.4" r="1.15" fill="#111"/>
<circle cx="199.0" cy="363.6" r="1.15" fill="#111"/>
<circle cx="202.1" cy="361.2" r="1.15" fill="#111"/>
<circle cx="205.4" cy="360.5" r="1.15" fill="#111"/>
<circle cx="208.7" cy="361.6" r="1.15" fill="#111"/>
<circle cx="211.6" cy="364.3" r="1.15" fill="#111"/>
<circle cx="213.7" cy="368.4" r="1.15" fill="#111"/>
<circle cx="215.0" cy="373.4" r="1.15" fill="#111"/>
<text x="183.2" y="84.5" font-family="Liberation Sans, sans-serif" font-size="53.5" font-weight="bold" fill="#1d63d6" textLength="394" lengthAdjust="spacingAndGlyphs">What&#39;s in the Box</text><text x="117" y="472" font-family="Liberation Sans, sans-serif" font-size="19.5" font-weight="normal" fill="#333" textLength="92.5" lengthAdjust="spacingAndGlyphs">Camera&#160;&#160;*1</text><text x="297.8" y="365.5" font-family="Liberation Sans, sans-serif" font-size="15" font-weight="normal" fill="#555" textLength="102.5" lengthAdjust="spacingAndGlyphs">Screws Package&#160;&#160;*1</text><text x="461.5" y="365.6" font-family="Liberation Sans, sans-serif" font-size="15" font-weight="normal" fill="#555" textLength="133" lengthAdjust="spacingAndGlyphs">USB-C Charging Cable&#160;&#160;*1</text><text x="629" y="365.6" font-family="Liberation Sans, sans-serif" font-size="15" font-weight="normal" fill="#555" textLength="109.8" lengthAdjust="spacingAndGlyphs">Quick start guide&#160;&#160;*1</text><text x="654.6" y="245.6" font-family="Liberation Sans, sans-serif" font-size="10.6" font-weight="normal" fill="#888" textLength="71.5" lengthAdjust="spacingAndGlyphs">Quick Start Guide</text><text x="123" y="685.4" font-family="Liberation Sans, sans-serif" font-size="15" font-weight="normal" fill="#444" textLength="72.5" lengthAdjust="spacingAndGlyphs">Solar Panel*1</text><text x="334.2" y="684.2" font-family="Liberation Sans, sans-serif" font-size="15" font-weight="normal" fill="#444" textLength="84" lengthAdjust="spacingAndGlyphs">Camera strap*1</text><text x="558.2" y="683.6" font-family="Liberation Sans, sans-serif" font-size="15" font-weight="normal" fill="#555" textLength="120" lengthAdjust="spacingAndGlyphs">solar power support*2</text>
</svg>
</body></html>
